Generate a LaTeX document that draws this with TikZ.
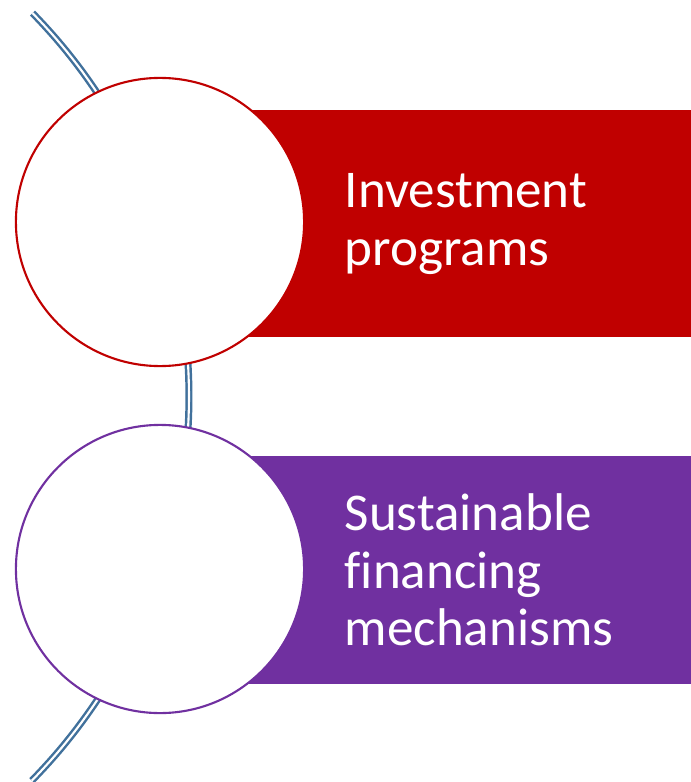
\documentclass[tikz,border=0pt]{standalone}
\usepackage{fontspec}
\setmainfont[Ligatures=NoCommon]{Carlito}
\definecolor{barred}{HTML}{C00000}
\definecolor{barpurple}{HTML}{7030A0}
\definecolor{linkblue}{HTML}{41719C}
\tikzset{
	bar/.style={rectangle, inner sep=0pt, minimum width=5.3cm, minimum height=2.27cm, anchor=west},
	disc/.style={circle, fill=white, line width=0.6pt, inner sep=0pt, minimum size=2.88cm},
	label/.style={text=white, anchor=west, align=left, inner sep=0pt, font=\fontsize{15.1}{16.3}\selectfont}
}
\begin{document}
\begin{tikzpicture}[x=0.01cm, y=-0.01cm]
\useasboundingbox (0,0) rectangle (690,782);

\draw [linkblue, line width=0.7pt, double=white, double distance=0.6pt, domain=-44.4:44.5, samples=100]
		plot({-359+548*cos(\x)},{396.5+548*sin(\x)});

\node (bar1) [bar, fill=barred] at (160,223.5) {};
\node (bar2) [bar, fill=barpurple] at (160,570) {};

\node (disc1) [disc, draw=barred] at (160,222) {};
\node (disc2) [disc, draw=barpurple] at (160,569) {};

\node (text1) [label] at (344,224) {Investment\\programs};
\node (text2) [label] at (344,570) {Sustainable\\financing\\mechanisms};

\end{tikzpicture}
\end{document}
